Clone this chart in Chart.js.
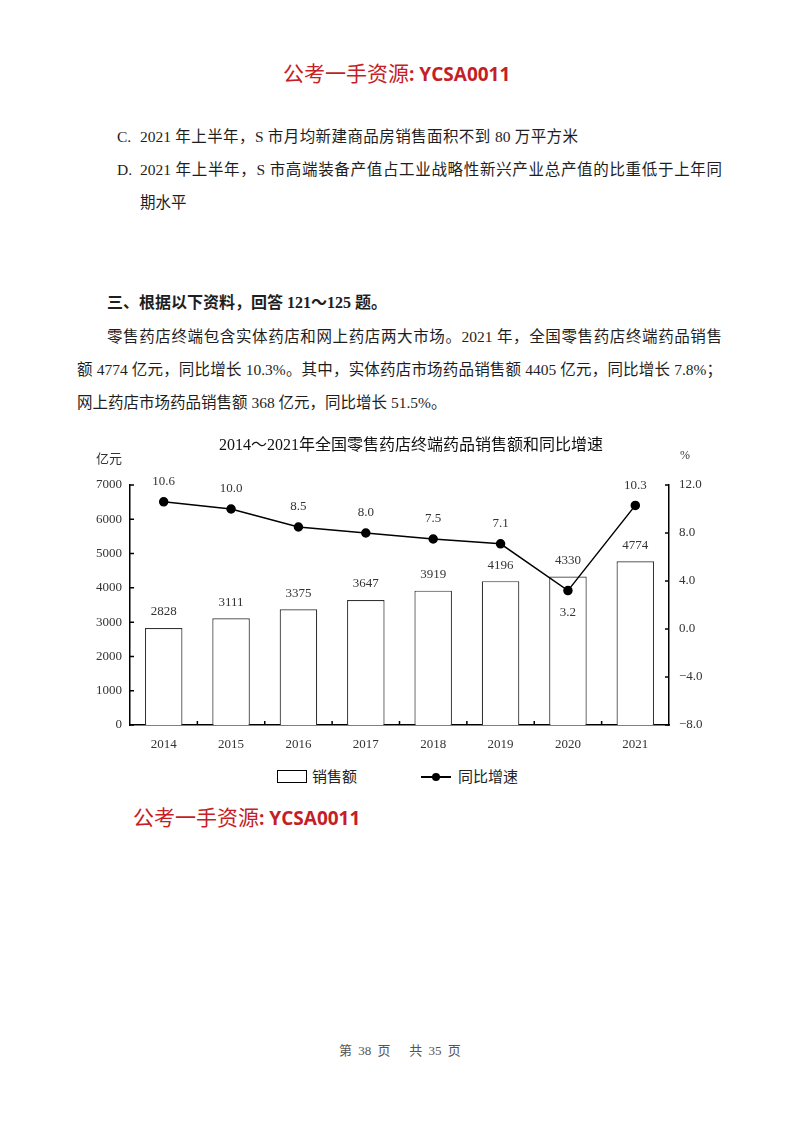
<!DOCTYPE html>
<html lang="zh-CN">
<head>
<meta charset="utf-8">
<script src="https://cdn.jsdelivr.net/npm/chart.js@4.4.1/dist/chart.umd.min.js"></script>
<style>
  body { margin: 0; background: #fff; }
  .page { position: relative; width: 800px; height: 1124px; overflow: hidden; background: #fff; color: #1e1e1e;
          font-family: "Liberation Serif", "Noto Sans CJK SC", serif; font-size: 15.5px; }
  .ln { position: absolute; height: 24px; line-height: 24px; white-space: nowrap; }
  .jf { white-space: normal; text-align: justify; text-align-last: justify; }
  .mark { position: absolute; height: 30px; line-height: 30px; color: #c41e26; white-space: nowrap; }
  .mark .cn { font-family: "Noto Sans CJK SC"; font-size: 21px; }
  .mark .en { font-family: "Open Sans"; font-weight: bold; font-size: 19px; }
  .small { position: absolute; height: 20px; line-height: 20px; white-space: nowrap; color: #333; }
  #chartBox { position: absolute; left: 60px; top: 430px; width: 680px; height: 330px; }
</style>
</head>
<body>
<div class="page">
  <div class="mark" style="left:283px;top:57px"><span class="cn">公考一手资源</span><span class="en">: YCSA0011</span></div>

  <div class="ln" style="left:117px;top:125px">C.</div>
  <div class="ln jf" style="left:140px;top:125px;width:438px">2021 年上半年，S 市月均新建商品房销售面积不到 80 万平方米</div>
  <div class="ln" style="left:117px;top:158px">D.</div>
  <div class="ln jf" style="left:140px;top:158px;width:582px">2021 年上半年，S 市高端装备产值占工业战略性新兴产业总产值的比重低于上年同</div>
  <div class="ln" style="left:140px;top:191px">期水平</div>

  <div class="ln" style="left:107px;top:291px;font-size:16px;font-weight:bold">三、根据以下资料，回答 121～125 题。</div>
  <div class="ln jf" style="left:107px;top:325px;width:615px">零售药店终端包含实体药店和网上药店两大市场。2021 年，全国零售药店终端药品销售</div>
  <div class="ln jf" style="left:77px;top:358px;width:645px">额 4774 亿元，同比增长 10.3%。其中，实体药店市场药品销售额 4405 亿元，同比增长 7.8%；</div>
  <div class="ln" style="left:77px;top:391px">网上药店市场药品销售额 368 亿元，同比增长 51.5%。</div>

  <div id="chartBox"><canvas id="chart"></canvas></div>
  <div class="small" style="left:96px;top:449px;font-size:13px">亿元</div>
  <div class="small" style="left:680px;top:445px;font-size:12px">%</div>

  <div style="position:absolute;left:277px;top:770px;width:28px;height:11px;border:1.5px solid #000"></div>
  <div class="small" style="left:312px;top:767px;font-size:15px;color:#222">销售额</div>
  <div style="position:absolute;left:421px;top:776px;width:30px;height:1.5px;background:#000"></div>
  <div style="position:absolute;left:432px;top:773px;width:8px;height:8px;border-radius:50%;background:#000"></div>
  <div class="small" style="left:458px;top:767px;font-size:15px;color:#222">同比增速</div>

  <div class="mark" style="left:133px;top:801px"><span class="cn">公考一手资源</span><span class="en">: YCSA0011</span></div>

  <div class="small" style="left:0;width:800px;text-align:center;top:1041px;font-size:13px;color:#555;word-spacing:3px">第 38 页&nbsp;&nbsp; 共 35 页</div>
</div>

<script>
// ==================== DATOS ====================
const years = ['2014', '2015', '2016', '2017', '2018', '2019', '2020', '2021'];
const sales = [2828, 3111, 3375, 3647, 3919, 4196, 4330, 4774];   // 亿元
const growth = [10.6, 10.0, 8.5, 8.0, 7.5, 7.1, 3.2, 10.3];      // %
const salesTicks = { min: 0, max: 7000, step: 1000 };
const growthTicks = { min: -8, max: 12, step: 4 };

const numFont = { family: '"Liberation Serif", serif', size: 13 };

// etiquetas de valores sobre barras y puntos
const valueLabels = {
    id: 'valueLabels',
    afterDatasetsDraw(chart) {
        const ctx = chart.ctx;
        const bars = chart.getDatasetMeta(0).data;
        const pts = chart.getDatasetMeta(1).data;
        ctx.save();
        ctx.font = '13px "Liberation Serif", serif';
        ctx.fillStyle = '#333';
        ctx.textAlign = 'center';
        ctx.textBaseline = 'middle';
        bars.forEach((b, i) => ctx.fillText(String(sales[i]), b.x, b.y - 16));
        pts.forEach((p, i) => {
            const below = p.y > bars[i].y - 12;
            ctx.fillText(growth[i].toFixed(1), p.x, below ? p.y + 22 : p.y - 20);
        });
        ctx.restore();
    }
};

// marcas de graduación hacia dentro
const innerTicks = {
    id: 'innerTicks',
    afterDraw(chart) {
        const { ctx, chartArea: a, scales } = chart;
        ctx.save();
        ctx.strokeStyle = '#000';
        ctx.lineWidth = 1.5;
        ctx.beginPath();
        scales.y.ticks.forEach(t => {
            const y = scales.y.getPixelForValue(t.value);
            ctx.moveTo(a.left, y); ctx.lineTo(a.left + 4, y);
        });
        scales.y1.ticks.forEach(t => {
            const y = scales.y1.getPixelForValue(t.value);
            ctx.moveTo(a.right - 4, y); ctx.lineTo(a.right, y);
        });
        for (let i = 1; i < years.length; i++) {
            const x = (scales.x.getPixelForValue(i - 1) + scales.x.getPixelForValue(i)) / 2;
            ctx.moveTo(x, a.bottom); ctx.lineTo(x, a.bottom - 4);
        }
        ctx.stroke();
        ctx.restore();
    }
};

const axisBorder = { display: true, color: '#000', width: 1.5 };

new Chart(document.getElementById('chart'), {
    data: {
        labels: years,
        datasets: [{
            type: 'bar',
            label: '销售额',
            data: sales,
            yAxisID: 'y',
            backgroundColor: '#fff',
            borderColor: '#333',
            borderWidth: 1.2,
            barPercentage: 0.557,
            categoryPercentage: 1,
            order: 1
        }, {
            type: 'line',
            label: '同比增速',
            data: growth,
            yAxisID: 'y1',
            borderColor: '#000',
            borderWidth: 1.5,
            pointRadius: 4,
            pointBackgroundColor: '#000',
            pointBorderColor: '#000',
            tension: 0,
            order: 0
        }]
    },
    options: {
        responsive: true,
        maintainAspectRatio: false,
        animation: false,
        layout: { padding: { left: 22, top: 0, right: 0, bottom: 0 } },
        plugins: {
            legend: { display: false },
            tooltip: { enabled: false },
            title: {
                display: true,
                text: '2014～2021年全国零售药店终端药品销售额和同比增速',
                color: '#111',
                font: { family: '"Liberation Serif", "Noto Sans CJK SC", serif', size: 16, weight: 'normal' },
                padding: { top: 6, bottom: 29.8 }
            }
        },
        scales: {
            x: {
                grid: { display: false, drawTicks: false },
                border: axisBorder,
                ticks: { color: '#333', font: numFont, padding: 12 },
                afterFit(s) { s.height = 35; }
            },
            y: {
                position: 'left',
                min: salesTicks.min,
                max: salesTicks.max,
                grid: { display: false, drawTicks: false },
                border: axisBorder,
                ticks: {
                    stepSize: salesTicks.step, color: '#333', font: numFont, padding: 8,
                    callback: v => String(v)
                },
                afterFit(s) { s.width = 48; }
            },
            y1: {
                position: 'right',
                min: growthTicks.min,
                max: growthTicks.max,
                grid: { display: false, drawTicks: false },
                border: axisBorder,
                ticks: {
                    stepSize: growthTicks.step, color: '#333', font: numFont, padding: 10,
                    callback: v => v.toFixed(1).replace('-', '−')
                },
                afterFit(s) { s.width = 71; }
            }
        }
    },
    plugins: [valueLabels, innerTicks]
});
</script>
</body>
</html>
